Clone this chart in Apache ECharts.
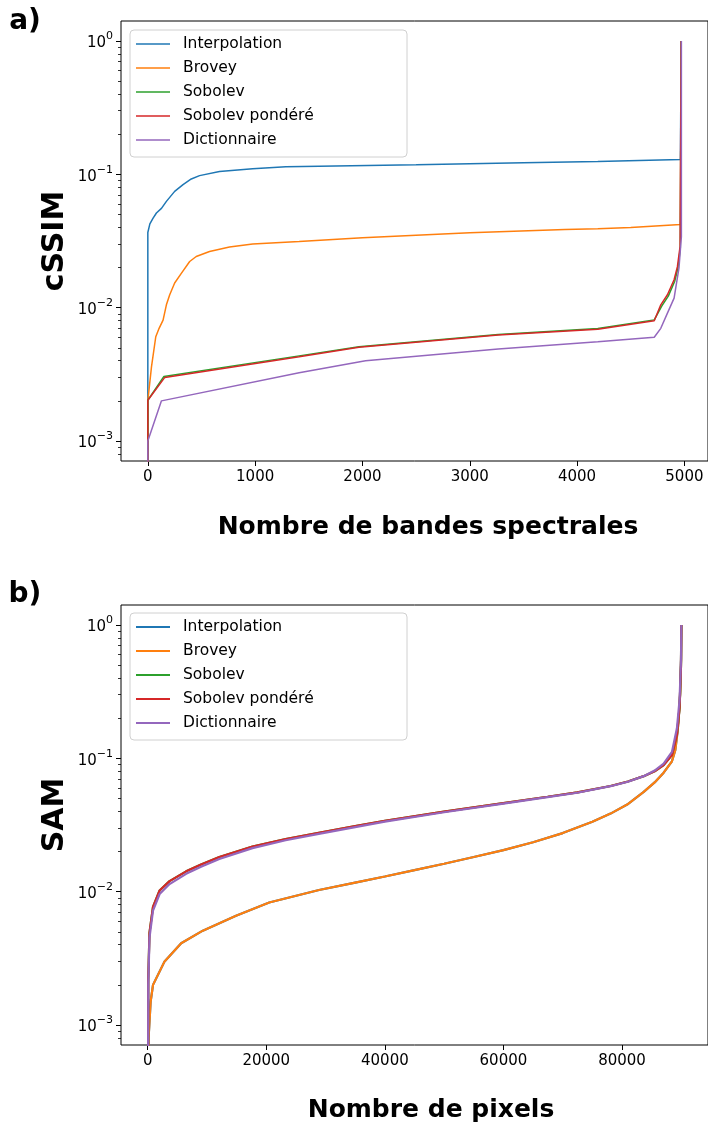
<!DOCTYPE html>
<html><head><meta charset="utf-8">
<script src="https://cdn.jsdelivr.net/npm/echarts@6/dist/echarts.min.js"></script>
<style>html,body{margin:0;padding:0;background:#fff}#c{width:708px;height:1128px}</style>
</head><body><div id="c"></div>
<script>
// ---------- data ----------
const seriesNames = ['Interpolation', 'Brovey', 'Sobolev', 'Sobolev pondéré', 'Dictionnaire'];
const seriesColors = ['#1f77b4', '#ff7f0e', '#2ca02c', '#d62728', '#9467bd'];

// panel a) cSSIM vs number of spectral bands : [x, value]
const cssimInterpolation = [[0,1e-5],[0,0.0366],[19,0.0425],[49,0.047],[80,0.0513],[127,0.0555],[173,0.0627],[250,0.0745],[328,0.0837],[405,0.0923],[482,0.0978],[668,0.105],[977,0.110],[1286,0.114],[1596,0.115],[2500,0.118],[3500,0.122],[4193,0.125],[4963,0.129],[4970,1.0]];
const cssimBrovey = [[0,1e-5],[0,0.002],[34,0.0036],[74,0.00605],[105,0.0070],[142,0.00807],[173,0.0105],[204,0.0125],[250,0.0153],[312,0.0181],[390,0.0222],[451,0.0242],[575,0.0264],[761,0.0285],[977,0.030],[1410,0.0313],[2000,0.0335],[3000,0.0365],[3887,0.0385],[4193,0.0391],[4500,0.040],[4963,0.042],[4970,1.0]];
const cssimSobolev = [[0,1e-5],[0,0.00202],[150,0.00305],[1410,0.00435],[1967,0.0051],[3265,0.0063],[4193,0.00698],[4719,0.0081],[4790,0.0103],[4850,0.0122],[4910,0.0158],[4940,0.0198],[4962,0.028],[4970,1.0]];
const cssimSobolevPondere = [[0,1e-5],[0,0.00202],[158,0.0030],[1410,0.00428],[1967,0.00504],[3265,0.00623],[4193,0.00688],[4719,0.00798],[4780,0.0105],[4842,0.0125],[4904,0.0162],[4935,0.0203],[4960,0.0288],[4970,1.0]];
const cssimDictionnaire = [[0,1e-5],[0,0.001],[127,0.0020],[1410,0.00325],[2029,0.0040],[3265,0.00489],[4193,0.00555],[4719,0.0060],[4780,0.0070],[4842,0.0091],[4904,0.0118],[4950,0.020],[4972,0.034],[4972,1.0]];

// panel b) SAM vs number of pixels : [x, value]
const samInterpolation = [[0,1e-5],[150,0.0008],[500,0.0015],[900,0.0020],[2850,0.0030],[5650,0.0041],[9300,0.0051],[14900,0.0066],[20500,0.0083],[28900,0.0103],[35000,0.0117],[40000,0.0130],[45000,0.0145],[50000,0.0162],[55000,0.0182],[60000,0.0205],[65000,0.0235],[70000,0.0275],[75000,0.0335],[78070,0.0385],[80870,0.0450],[83660,0.0560],[85500,0.0660],[87020,0.0780],[88420,0.0950],[88980,0.115],[89260,0.145],[89540,0.190],[89800,0.30],[89950,0.55],[90000,1.0]];
const samBrovey = [[0,1e-5],[150,0.0008],[500,0.0015],[900,0.0020],[2850,0.0030],[5650,0.0041],[9300,0.0051],[14900,0.0066],[20500,0.0083],[28900,0.0103],[35000,0.0117],[40000,0.0130],[45000,0.0145],[50000,0.0162],[55000,0.0182],[60000,0.0205],[65000,0.0235],[70000,0.0275],[75000,0.0335],[78070,0.0385],[80870,0.0450],[83660,0.0560],[85500,0.0660],[87020,0.0780],[88420,0.0950],[88980,0.115],[89260,0.145],[89540,0.190],[89800,0.30],[89950,0.55],[90000,1.0]];
const samSobolev = [[0,1e-5],[100,0.0022],[300,0.0049],[896,0.0077],[2013,0.0102],[3691,0.0120],[6487,0.0142],[9000,0.0160],[12081,0.0182],[17673,0.0218],[23270,0.0248],[28859,0.0276],[35000,0.0310],[40000,0.0340],[50000,0.0398],[60000,0.0462],[67450,0.0515],[72480,0.0555],[78070,0.0620],[81000,0.0670],[83660,0.0735],[85500,0.0800],[87020,0.0890],[88420,0.106],[89260,0.150],[89700,0.24],[89950,0.5],[90000,1.0]];
const samSobolevPondere = [[0,1e-5],[100,0.0022],[300,0.0049],[896,0.0077],[2013,0.0102],[3691,0.0120],[6487,0.0142],[9000,0.0160],[12081,0.0182],[17673,0.0218],[23270,0.0248],[28859,0.0276],[35000,0.0310],[40000,0.0340],[50000,0.0398],[60000,0.0462],[67450,0.0515],[72480,0.0555],[78070,0.0620],[81000,0.0670],[83660,0.0735],[85500,0.0800],[87020,0.0890],[88420,0.106],[89260,0.150],[89700,0.24],[89950,0.5],[90000,1.0]];
const samDictionnaire = [[0,1e-5],[100,0.0020],[300,0.0045],[896,0.0072],[2013,0.0096],[3691,0.0114],[6487,0.0136],[9000,0.0154],[12081,0.0176],[17673,0.0212],[23270,0.0243],[28859,0.0271],[35000,0.0305],[40000,0.0335],[50000,0.0394],[60000,0.0458],[67450,0.0512],[72480,0.0552],[78070,0.0618],[81000,0.0668],[83660,0.0735],[85500,0.0810],[87020,0.0912],[88420,0.1116],[89260,0.168],[89700,0.273],[89950,0.55],[90000,1.0]];

const xTicksA = [0, 1000, 2000, 3000, 4000, 5000];
const xTicksB = [0, 20000, 40000, 60000, 80000];
const yTickExponents = [-3, -2, -1, 0];

// ---------- helpers ----------
const FONT = 'DejaVu Sans';
const Y_MIN = -3.15, Y_MAX = 0.15;
function minorTicks(lo, hi) {
  const out = [];
  for (let e = -5; e <= 1; e++) for (let k = 2; k <= 9; k++) {
    const v = Math.log10(k) + e;
    if (v > lo && v < hi) out.push(v);
  }
  return out;
}
function toLog(arr) { return arr.map(p => [p[0], Math.log10(p[1])]); }
const supLabel = v => {
  const e = Math.round(v);
  return '{b|10}{s|' + (e < 0 ? '\u2212' + (-e) : String(e)) + '}';
};
const rich = {
  b: { fontFamily: FONT, fontSize: 15, color: '#000', lineHeight: 20, verticalAlign: 'bottom' },
  s: { fontFamily: FONT, fontSize: 11, color: '#000', lineHeight: 14, verticalAlign: 'top' }
};

function yAxesFor(gridIndex) {
  return [{
    type: 'value', gridIndex, min: Y_MIN, max: Y_MAX, position: 'left',
    splitLine: { show: false }, axisLine: { show: false, onZero: false },
    axisTick: { show: true, customValues: yTickExponents, length: 5, lineStyle: { color: '#000', width: 1 } },
    axisLabel: { show: true, customValues: yTickExponents, formatter: supLabel, rich, margin: 8 }
  }, {
    type: 'value', gridIndex, min: Y_MIN, max: Y_MAX, position: 'left',
    splitLine: { show: false }, axisLine: { show: false, onZero: false },
    axisTick: { show: true, customValues: minorTicks(Y_MIN, Y_MAX), length: 3, lineStyle: { color: '#000', width: 0.8 } },
    axisLabel: { show: false }
  }];
}
function xAxisFor(gridIndex, min, max, ticks) {
  return {
    type: 'value', gridIndex, min, max, position: 'bottom',
    splitLine: { show: false }, axisLine: { show: false, onZero: false },
    axisTick: { show: true, customValues: ticks, length: 5, lineStyle: { color: '#000', width: 1 } },
    axisLabel: { show: true, customValues: ticks, formatter: v => String(v), fontFamily: FONT, fontSize: 15, color: '#000', margin: 9 }
  };
}

const panelA = [cssimInterpolation, cssimBrovey, cssimSobolev, cssimSobolevPondere, cssimDictionnaire];
const panelB = [samInterpolation, samBrovey, samSobolev, samSobolevPondere, samDictionnaire];

const series = [];
panelA.forEach((arr, i) => series.push({
  name: seriesNames[i], type: 'line', xAxisIndex: 0, yAxisIndex: 0,
  data: toLog(arr), symbol: 'none', clip: true, animation: false,
  lineStyle: { color: seriesColors[i], width: 1.5 }, itemStyle: { color: seriesColors[i] }
}));
panelB.forEach((arr, i) => series.push({
  name: seriesNames[i], type: 'line', xAxisIndex: 1, yAxisIndex: 2,
  data: toLog(arr), symbol: 'none', clip: true, animation: false,
  lineStyle: { color: seriesColors[i], width: 2.2 }, itemStyle: { color: seriesColors[i] }
}));

const legendBase = {
  orient: 'vertical', left: 136, itemWidth: 34, itemGap: 6, padding: 0, icon: 'rect',
  data: seriesNames, selectedMode: false, z: 5,
  textStyle: { fontFamily: FONT, fontSize: 15.5, color: '#000', lineHeight: 18, padding: [0, 0, 0, 8] }
};

const option = {
  backgroundColor: '#fff',
  animation: false,
  grid: [
    { left: 121, top: 21, width: 590, height: 440, show: true, borderColor: '#000', borderWidth: 1, backgroundColor: '#fff' },
    { left: 121, top: 605, width: 590, height: 440, show: true, borderColor: '#000', borderWidth: 1, backgroundColor: '#fff' }
  ],
  xAxis: [xAxisFor(0, -250, 5220, xTicksA), xAxisFor(1, -4500, 94500, xTicksB)],
  yAxis: [...yAxesFor(0), ...yAxesFor(1)],
  legend: [
    Object.assign({}, legendBase, { top: 35, itemHeight: 1.5 }),
    Object.assign({}, legendBase, { top: 618, itemHeight: 2.2 })
  ],
  graphic: [
    { type: 'rect', z: 4, shape: { x: 130, y: 30, width: 277, height: 127, r: 4 }, style: { fill: 'rgba(255,255,255,0.8)', stroke: '#d0d0d0', lineWidth: 1 } },
    { type: 'rect', z: 4, shape: { x: 130, y: 613, width: 277, height: 127, r: 4 }, style: { fill: 'rgba(255,255,255,0.8)', stroke: '#d0d0d0', lineWidth: 1 } },
    { type: 'text', z: 6, x: 25, y: 22, style: { text: 'a)', fontFamily: FONT, fontWeight: 'bold', fontSize: 28, fill: '#000', align: 'center', verticalAlign: 'middle' } },
    { type: 'text', z: 6, x: 25, y: 595, style: { text: 'b)', fontFamily: FONT, fontWeight: 'bold', fontSize: 28, fill: '#000', align: 'center', verticalAlign: 'middle' } },
    { type: 'text', z: 6, x: 55, y: 241, rotation: Math.PI / 2, style: { text: 'cSSIM', fontFamily: FONT, fontWeight: 'bold', fontSize: 30, fill: '#000', align: 'center', verticalAlign: 'middle' } },
    { type: 'text', z: 6, x: 55, y: 815, rotation: Math.PI / 2, style: { text: 'SAM', fontFamily: FONT, fontWeight: 'bold', fontSize: 30, fill: '#000', align: 'center', verticalAlign: 'middle' } },
    { type: 'text', z: 6, x: 428, y: 527, style: { text: 'Nombre de bandes spectrales', fontFamily: FONT, fontWeight: 'bold', fontSize: 25, fill: '#000', align: 'center', verticalAlign: 'middle' } },
    { type: 'text', z: 6, x: 431, y: 1110, style: { text: 'Nombre de pixels', fontFamily: FONT, fontWeight: 'bold', fontSize: 25, fill: '#000', align: 'center', verticalAlign: 'middle' } }
  ],
  series
};

const chart = echarts.init(document.getElementById('c'), null, { renderer: 'canvas' });
chart.setOption(option);
</script>
</body></html>
